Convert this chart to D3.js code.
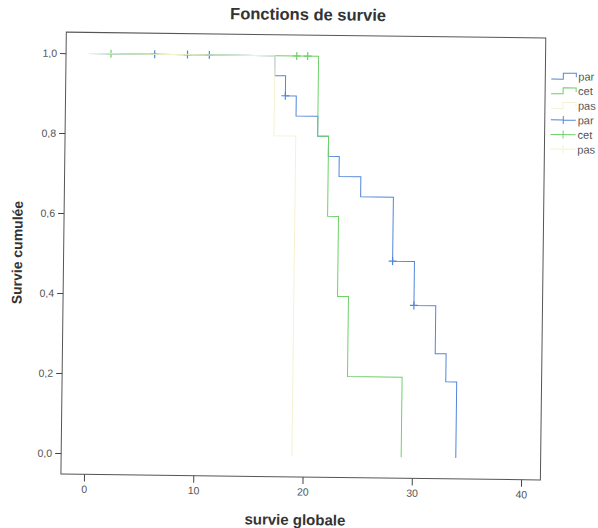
<!DOCTYPE html>
<html>
<head>
<meta charset="utf-8">
<script src="https://cdn.jsdelivr.net/npm/d3@7"></script>
<style>
  body { margin: 0; background: #fff; }
  text { font-family: "Liberation Sans", Arial, sans-serif; }
  .tickText { font-size: 10.5px; fill: #555; }
  .labelText { font-size: 15px; font-weight: bold; fill: #333; }
</style>
</head>
<body>
<svg id="svg_survie" width="598" height="528"></svg>
<script>
// event times and survival level after each event, per group
const blueTimes = [17, 18, 19, 21, 22, 23, 25, 28, 30, 32, 33, 34];
const blueSurv = [0.95, 0.90, 0.85, 0.80, 0.75, 0.70, 0.65, 0.49, 0.38, 0.26, 0.19, 0.0];
const blueCensored = [6, 9, 11, 18, 28, 30];

const greenTimes = [21, 22, 23, 24, 29];
const greenSurv = [0.80, 0.60, 0.40, 0.20, 0.0];
const greenCensored = [2, 19, 20];

const paleTimes = [17, 19];
const paleSurv = [0.80, 0.0];
const paleCensored = [];

const legendLabels = ['par', 'cet', 'pas'];
const xTicks = [0, 10, 20, 30, 40];
const yTicks = [0, 0.2, 0.4, 0.6, 0.8, 1.0];

const width = 598;
const height = 528;

const groups = [
  { times: blueTimes, surv: blueSurv, censored: blueCensored, color: '#5285da' },
  { times: greenTimes, surv: greenSurv, censored: greenCensored, color: '#6fd06a' },
  { times: paleTimes, surv: paleSurv, censored: paleCensored, color: '#f5f2d2' },
];

const svg = d3.select('#svg_survie');

// the scanned chart is slightly turned, so the whole drawing is turned too
const chart = svg.append('g')
  .attr('transform', 'rotate(0.7, 300, 264)');

const x = d3.scaleLinear().domain([0, 40]).range([86.6, 523.7]);
const y = d3.scaleLinear().domain([0, 1]).range([456, 56]);

const frLeft = 63.5, frRight = 543, frTop = 35, frBottom = 477;

const fr = d3.formatLocale({ decimal: ',', thousands: ' ', grouping: [3], currency: ['', ''] });

// frame
chart.append('rect')
  .attr('x', frLeft)
  .attr('y', frTop)
  .attr('width', frRight - frLeft)
  .attr('height', frBottom - frTop)
  .attr('fill', 'none')
  .attr('stroke', '#555')
  .attr('stroke-width', 1);

// axes
const yAxis = chart.append('g')
  .attr('transform', `translate(${frLeft}, 0)`)
  .call(d3.axisLeft(y).tickValues(yTicks).tickFormat(fr.format('.1f')).tickSize(6).tickPadding(3));

const xAxis = chart.append('g')
  .attr('transform', `translate(0, ${frBottom})`)
  .call(d3.axisBottom(x).tickValues(xTicks).tickFormat(d3.format('d')).tickSize(7).tickPadding(4));

[yAxis, xAxis].forEach((ax) => {
  ax.select('.domain').remove();
  ax.selectAll('line').attr('stroke', '#444');
  ax.selectAll('text').attr('class', 'tickText').attr('font-size', null).attr('font-family', null);
});

// survival level at time t (after any event at t)
const levelAt = (g, t) => {
  let s = 1;
  g.times.forEach((et, i) => { if (et <= t) s = g.surv[i]; });
  return s;
};

const stepLine = d3.line()
  .x((d) => x(d[0]))
  .y((d) => y(d[1]))
  .curve(d3.curveStepAfter);

const curves = chart.append('g');

groups.forEach((g) => {
  const pts = [[0, 1]].concat(g.times.map((t, i) => [t, g.surv[i]]));
  curves.append('path')
    .attr('d', stepLine(pts))
    .attr('fill', 'none')
    .attr('stroke', g.color)
    .attr('stroke-width', 1);

  curves.append('g')
    .selectAll('path')
    .data(g.censored)
    .enter()
    .append('path')
    .attr('d', (t) => {
      const cx = x(t), cy = y(levelAt(g, t));
      return `M${cx - 4},${cy}H${cx + 4}M${cx},${cy - 4}V${cy + 4}`;
    })
    .attr('stroke', g.color)
    .attr('stroke-width', 1.2);
});

// title and axis labels
chart.append('text')
  .text('Fonctions de survie')
  .attr('x', 305)
  .attr('y', 20)
  .attr('text-anchor', 'middle')
  .attr('class', 'labelText')
  .style('font-size', '16.5px')
  .style('font-weight', '600');

chart.append('text')
  .text('survie globale')
  .attr('x', 298)
  .attr('y', 525)
  .attr('text-anchor', 'middle')
  .attr('class', 'labelText');

chart.append('text')
  .text('Survie cumulée')
  .attr('transform', 'translate(22, 256) rotate(-90)')
  .attr('text-anchor', 'middle')
  .attr('class', 'labelText')
  .style('font-size', '14px');

// legend: step samples, then censor samples
const legend = chart.append('g');
const legendRows = groups.map((g, i) => ({ color: g.color, label: legendLabels[i], kind: 'step' }))
  .concat(groups.map((g, i) => ({ color: g.color, label: legendLabels[i], kind: 'cens' })));

legend.selectAll('path')
  .data(legendRows)
  .enter()
  .append('path')
  .attr('d', (d, i) => {
    const ly = 73 + i * 14.6;
    if (d.kind === 'step') return `M549,${ly + 3}H561V${ly - 3}H574V${ly + 1}`;
    return `M549,${ly}H574M561.5,${ly - 4}V${ly + 4}`;
  })
  .attr('fill', 'none')
  .attr('stroke', (d) => d.color)
  .attr('stroke-width', 1);

legend.selectAll('text')
  .data(legendRows)
  .enter()
  .append('text')
  .text((d) => d.label)
  .attr('x', 576)
  .attr('y', (d, i) => 73 + i * 14.6 + 4)
  .attr('class', 'tickText')
  .style('font-size', '11px');
</script>
</body>
</html>
